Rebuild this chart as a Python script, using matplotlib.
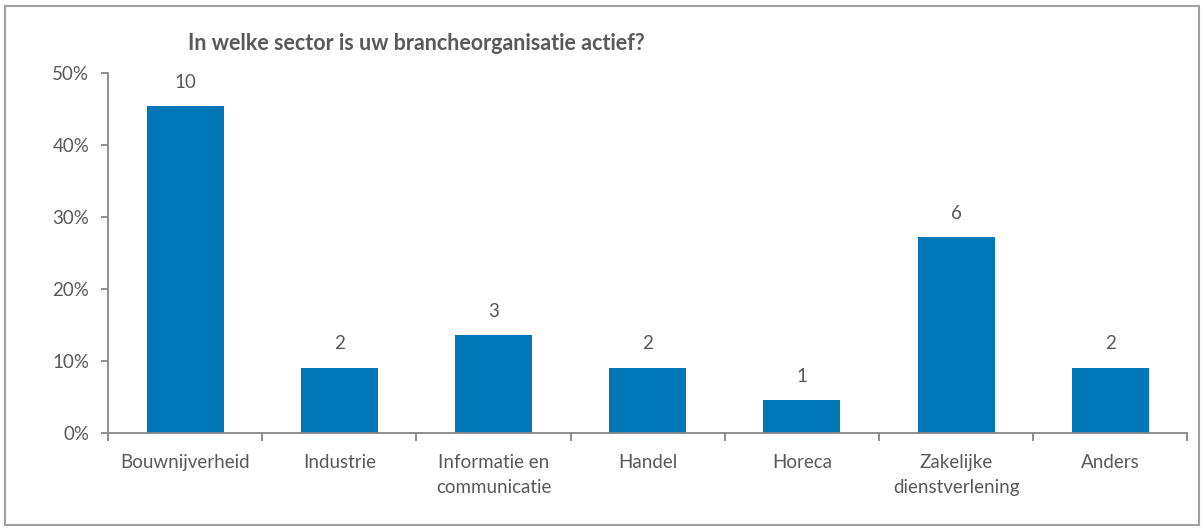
import matplotlib.pyplot as plt
import matplotlib.ticker as ticker
from matplotlib.patches import Rectangle
import numpy as np

# Data
sectors = ["Bouwnijverheid", "Industrie", "Informatie en\ncommunicatie", "Handel",
           "Horeca", "Zakelijke\ndienstverlening", "Anders"]
counts = [10, 2, 3, 2, 1, 6, 2]
n_respondents = 22
title = "In welke sector is uw brancheorganisatie actief?"

shares = np.array(counts) / n_respondents
grey = "#595959"
axis_grey = "#868686"
blue = "#0077b6"

plt.rcParams['font.family'] = ['Lato', 'DejaVu Sans']

fig = plt.figure(figsize=(12.04, 5.31), dpi=100)
ax = fig.add_axes([0.0897, 0.1846, 0.8965, 0.6779])

x = np.arange(len(sectors))
ax.bar(x, shares, width=0.5, color=blue, zorder=2)
for xi, s, c in zip(x, shares, counts):
    ax.text(xi, s + 0.021, str(c), ha="center", va="bottom", fontsize=13.5, color=grey)

ax.set_xlim(-0.5, len(sectors) - 0.5)
ax.set_ylim(0, 0.5)
ax.yaxis.set_major_locator(ticker.MultipleLocator(0.1))
ax.yaxis.set_major_formatter(ticker.PercentFormatter(1.0, decimals=0))

# x ticks at category borders, labels at centres
ax.set_xticks(np.arange(-0.5, len(sectors)), minor=False)
ax.set_xticklabels([])
ax.set_xticks(x, minor=True)
ax.set_xticklabels(sectors, minor=True, fontsize=13.5, color=grey, linespacing=1.55, va="top")
ax.tick_params(axis="x", which="minor", length=0, pad=15)
ax.tick_params(axis="x", which="major", length=6, width=1.3, color=axis_grey)
ax.tick_params(axis="y", length=5, width=1.3, color=axis_grey, labelsize=13.5, labelcolor=grey, pad=8.5)

for side in ["top", "right"]:
    ax.spines[side].set_visible(False)
for side in ["left", "bottom"]:
    ax.spines[side].set_color(axis_grey)
    ax.spines[side].set_linewidth(1.3)

fig.text(0.346, 0.918, title, ha="center", va="center", fontsize=15.5, fontweight="bold", color=grey)

# outer border
fig.patches.append(Rectangle((5 / 1204, 6 / 531), 1194 / 1204, 519 / 531, transform=fig.transFigure,
                             fill=False, edgecolor="#a0a0a0", linewidth=1.5))

plt.savefig("out.png", dpi=100)
